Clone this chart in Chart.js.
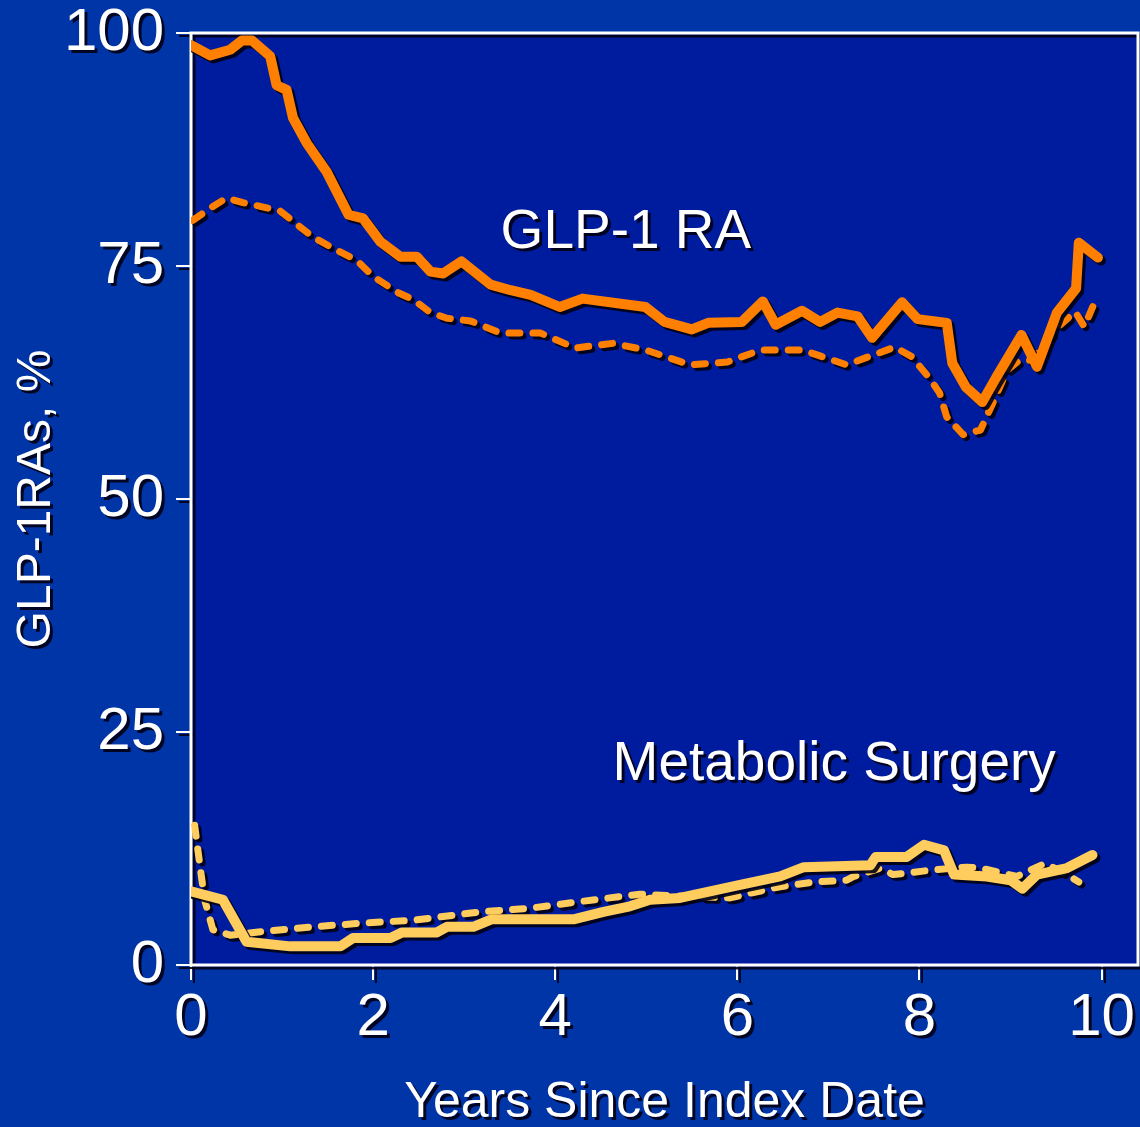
<!DOCTYPE html>
<html>
<head>
<meta charset="utf-8">
<script src="https://cdn.jsdelivr.net/npm/chart.js@4.4.1/dist/chart.umd.min.js"></script>
<style>
  html, body { margin: 0; padding: 0; background: #0035a8; }
  #wrap { width: 1140px; height: 1127px; position: relative; }
</style>
</head>
<body>
<div id="wrap"><canvas id="chart"></canvas></div>
<script>
// --- data ---
const xTicks = [0, 2, 4, 6, 8, 10];
const yTicks = [0, 25, 50, 75, 100];

// GLP-1 RA, solid
const glpSolidX = [0.00, 0.21, 0.43, 0.56, 0.67, 0.87, 0.94, 1.05, 1.12, 1.27, 1.49, 1.73, 1.89, 2.08, 2.30, 2.48, 2.63, 2.77, 2.97, 3.29, 3.51, 3.73, 4.05, 4.30, 4.99, 5.20, 5.50, 5.68, 6.05, 6.28, 6.42, 6.71, 6.91, 7.10, 7.32, 7.48, 7.81, 7.98, 8.30, 8.36, 8.51, 8.69, 8.84, 9.12, 9.29, 9.51, 9.72, 9.75, 9.96];
const glpSolidY = [98.7, 97.6, 98.2, 99.2, 99.2, 97.5, 94.4, 93.9, 90.9, 88.2, 85.1, 80.5, 80.1, 77.6, 76.0, 76.0, 74.4, 74.2, 75.5, 73.0, 72.4, 71.9, 70.6, 71.5, 70.6, 69.0, 68.2, 68.9, 69.0, 71.2, 68.7, 70.2, 69.0, 70.0, 69.6, 67.3, 71.1, 69.3, 68.9, 64.6, 62.0, 60.4, 63.0, 67.6, 64.2, 70.0, 72.6, 77.5, 75.9];

// GLP-1 RA, dashed
const glpDashX = [0.02, 0.21, 0.39, 0.57, 0.76, 0.98, 1.12, 1.34, 1.60, 1.82, 2.00, 2.26, 2.44, 2.63, 2.81, 3.07, 3.40, 3.84, 4.22, 4.63, 4.99, 5.48, 5.89, 6.26, 6.71, 7.20, 7.73, 7.91, 8.10, 8.22, 8.30, 8.48, 8.67, 8.82, 8.96, 9.10, 9.24, 9.48, 9.71, 9.81, 9.92];
const glpDashY = [79.9, 81.2, 82.3, 81.8, 81.4, 80.9, 79.8, 78.1, 76.7, 75.6, 73.9, 72.2, 71.4, 70.0, 69.4, 69.1, 67.8, 67.8, 66.2, 66.7, 66.0, 64.4, 64.7, 66.0, 66.0, 64.4, 66.3, 65.3, 63.1, 61.4, 58.8, 56.9, 57.4, 60.6, 63.8, 64.9, 64.9, 68.1, 70.1, 68.5, 71.0];

// Metabolic surgery, solid
const surgSolidX = [0.00, 0.35, 0.61, 1.09, 1.64, 1.78, 2.19, 2.32, 2.70, 2.81, 3.10, 3.30, 4.20, 4.53, 4.82, 5.04, 5.37, 6.03, 6.47, 6.73, 7.46, 7.52, 7.86, 8.05, 8.27, 8.38, 8.74, 9.00, 9.13, 9.29, 9.62, 9.90];
const surgSolidY = [7.9, 7.0, 2.5, 2.0, 2.0, 2.9, 2.9, 3.5, 3.5, 4.1, 4.1, 4.9, 4.9, 5.7, 6.3, 7.0, 7.2, 8.6, 9.5, 10.5, 10.7, 11.6, 11.6, 12.9, 12.3, 9.7, 9.5, 9.1, 8.2, 9.7, 10.4, 11.8];

// Metabolic surgery, dashed
const surgDashX = [0.04, 0.10, 0.15, 0.24, 0.43, 0.79, 1.34, 1.89, 2.44, 3.18, 3.73, 4.27, 4.93, 5.37, 5.92, 6.14, 6.47, 6.84, 7.20, 7.28, 7.57, 7.71, 8.15, 8.52, 8.67, 9.07, 9.38, 9.62, 9.75];
const surgDashY = [15.0, 10.5, 7.0, 3.8, 3.2, 3.6, 4.1, 4.5, 4.8, 5.7, 6.1, 6.8, 7.6, 7.4, 7.2, 7.7, 8.4, 8.9, 9.1, 9.5, 10.4, 9.7, 10.2, 10.5, 10.4, 9.5, 10.9, 9.7, 8.9];

const labels = [
  { text: "GLP-1 RA", x: 3.40, y: 76.9 },
  { text: "Metabolic Surgery", x: 4.63, y: 19.85 }
];

const ORANGE = "#ff8000";
const YELLOW = "#ffcc5e";
const PLOT_BG = "#001c9e";
const FONT = "'Liberation Sans', Arial, sans-serif";

function pts(xs, ys) {
  return xs.map((x, i) => ({ x: x, y: ys[i] }));
}

function line(data, color, dashed) {
  return {
    data: data,
    borderColor: color,
    borderWidth: dashed ? 7 : 10,
    borderDash: dashed ? [11, 13] : [],
    borderCapStyle: "round",
    borderJoinStyle: "round",
    pointRadius: 0,
    tension: 0,
    fill: false
  };
}

// plot background, frame, drop shadow and the two in-plot labels
const decor = {
  id: "decor",
  beforeDraw(chart) {
    const { ctx, chartArea: a } = chart;
    ctx.save();
    ctx.fillStyle = PLOT_BG;
    ctx.fillRect(a.left, a.top, a.right - a.left, a.bottom - a.top);
    ctx.restore();
    ctx.shadowColor = "rgba(0,0,20,0.9)";
    ctx.shadowOffsetX = 3;
    ctx.shadowOffsetY = 3;
    ctx.shadowBlur = 0;
  },
  beforeDatasetsDraw(chart) {
    const { ctx, chartArea: a } = chart;
    ctx.save();
    ctx.strokeStyle = "#ffffff";
    ctx.lineWidth = 3;
    ctx.strokeRect(a.left, a.top, a.right - a.left, a.bottom - a.top);
    ctx.restore();
  },
  afterDatasetsDraw(chart) {
    const { ctx, scales } = chart;
    ctx.save();
    ctx.fillStyle = "#ffffff";
    ctx.font = "55px " + FONT;
    ctx.textBaseline = "alphabetic";
    ctx.textAlign = "left";
    labels.forEach((l) => {
      ctx.fillText(l.text, scales.x.getPixelForValue(l.x), scales.y.getPixelForValue(l.y));
    });
    ctx.restore();
  }
};

new Chart(document.getElementById("chart"), {
  type: "line",
  data: {
    datasets: [
      line(pts(glpSolidX, glpSolidY), ORANGE, false),
      line(pts(surgSolidX, surgSolidY), YELLOW, false),
      line(pts(glpDashX, glpDashY), ORANGE, true),
      line(pts(surgDashX, surgDashY), YELLOW, true)
    ]
  },
  options: {
    responsive: true,
    maintainAspectRatio: false,
    animation: false,
    layout: { padding: { top: 33, right: 2, left: 0, bottom: 0 } },
    plugins: { legend: { display: false }, tooltip: { enabled: false } },
    scales: {
      x: {
        type: "linear",
        min: 0,
        max: 10.4,
        afterBuildTicks: (s) => { s.ticks = xTicks.map((v) => ({ value: v })); },
        afterFit: (s) => { s.height = 162; s.paddingLeft = 0; s.paddingRight = 0; },
        grid: { drawOnChartArea: false, drawTicks: true, tickLength: 15, color: "#ffffff", lineWidth: 2 },
        border: { display: false },
        ticks: { color: "#ffffff", font: { family: FONT, size: 60 }, padding: 2, maxRotation: 0 },
        title: { display: true, text: "Years Since Index Date", color: "#ffffff", font: { family: FONT, size: 50 }, padding: { top: 0, bottom: -6 } }
      },
      y: {
        min: 0,
        max: 100,
        afterBuildTicks: (s) => { s.ticks = yTicks.map((v) => ({ value: v })); },
        afterFit: (s) => { s.width = 191; s.paddingTop = 0; s.paddingBottom = 0; },
        grid: { drawOnChartArea: false, drawTicks: true, tickLength: 15, color: "#ffffff", lineWidth: 2 },
        border: { display: false },
        ticks: { color: "#ffffff", font: { family: FONT, size: 60 }, padding: 12 },
        title: { display: true, text: "GLP-1RAs, %", color: "#ffffff", font: { family: FONT, size: 48 }, padding: { top: 8, bottom: 0 } }
      }
    }
  },
  plugins: [decor]
});
</script>
</body>
</html>
